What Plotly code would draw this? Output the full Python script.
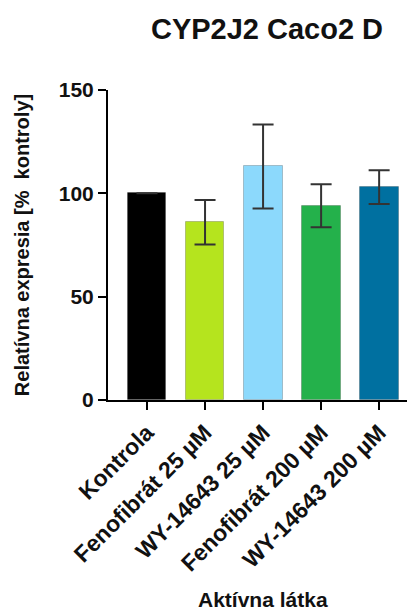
import plotly.graph_objects as go

categories = ["Kontrola", "Fenofibrát 25 µM", "WY-14643 25 µM", "Fenofibrát 200 µM", "WY-14643 200 µM"]
values = [100, 86, 113, 94, 103]
errors = [0, 10.8, 20.3, 10.4, 8.2]
colors = ["#000000", "#b5e41e", "#8cd9fc", "#24b14b", "#0070a0"]
y_ticks = [0, 50, 100, 150]

FONT = "Liberation Sans"
TXT = "#111111"

fig = go.Figure(go.Bar(
    x=list(range(len(categories))),
    y=values,
    width=0.67,
    marker=dict(color=colors, line=dict(color="rgba(0,0,0,0.2)", width=1)),
    error_y=dict(type="data", array=errors, visible=True, color="#333333",
                 thickness=2, width=10.5),
))

fig.update_layout(
    width=407, height=614,
    margin=dict(l=108, r=0, t=90, b=214),
    plot_bgcolor="white", paper_bgcolor="white",
    showlegend=False,
    bargap=0,
    title=dict(text="CYP2J2 Caco2 D", x=267/407, xanchor="center", xref="container",
               y=1 - 29/614, yanchor="middle", yref="container",
               font=dict(family=FONT, size=29, color=TXT, weight="bold")),
    annotations=[dict(text="Aktívna látka", xref="paper", yref="paper",
                      x=(263-108)/299, y=(400-586)/310, xanchor="center", yanchor="top",
                      showarrow=False,
                      font=dict(family=FONT, size=21, color=TXT, weight="bold"))],
)

fig.update_xaxes(
    range=[-0.672, 4.48],
    tickmode="array",
    tickvals=list(range(len(categories))),
    ticktext=categories,
    tickangle=-45,
    ticks="outside", ticklen=8, tickwidth=2, tickcolor="black",
    showline=True, linewidth=2, linecolor="black",
    showgrid=False, zeroline=False,
    tickfont=dict(family=FONT, size=23, color=TXT, weight="bold"),
)

fig.update_yaxes(
    range=[0, 150],
    tickmode="array",
    tickvals=y_ticks,
    ticks="outside", ticklen=8, tickwidth=2, tickcolor="black",
    showline=True, linewidth=2, linecolor="black",
    showgrid=False, zeroline=False,
    tickfont=dict(family=FONT, size=21, color=TXT, weight="bold"),
    title=dict(text="Relatívna expresia [%  kontroly]", standoff=24,
               font=dict(family=FONT, size=20, color=TXT, weight="bold")),
)

fig.write_html("out.html", config={"displayModeBar": False},
               post_script="document.body.style.margin='0px';document.body.style.overflow='hidden';")
